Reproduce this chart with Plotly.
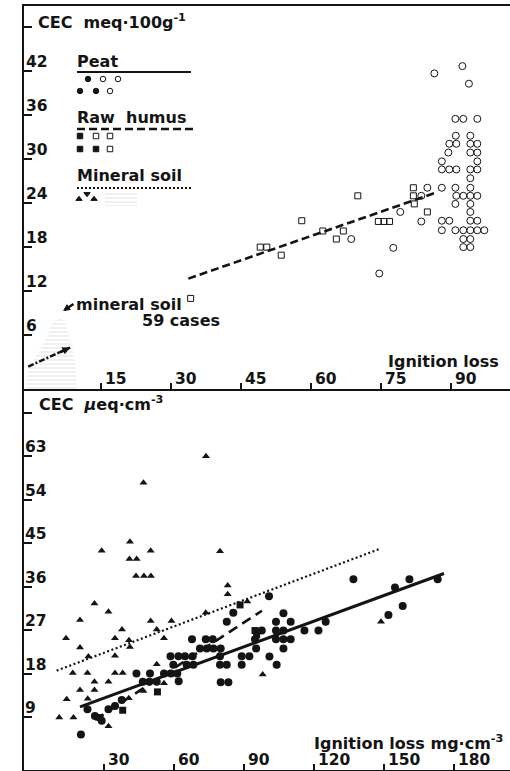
import plotly.graph_objects as go

W, H = 510, 771

# ---------------- top panel: CEC (meq/100 g) vs ignition loss (%) ----------------
top_peat_x = [86.4, 92.4, 93.8,
              90.9, 92.6, 95.6,
              91.0, 94.1,
              89.6, 91.1, 94.1, 95.6,
              89.4, 94.1, 95.6,
              88.0, 95.6,
              88.0, 89.6, 91.1, 94.1, 95.6,
              94.1,
              88.0, 90.9, 94.1,
              91.1, 92.6, 94.1, 95.6,
              90.9, 94.1,
              94.1,
              88.0, 89.6, 94.1, 95.6,
              88.0, 90.9, 92.6, 94.1, 95.6, 97.1,
              92.6, 94.1,
              92.6, 94.1,
              84.9, 83.6, 79.1, 83.6, 77.6, 74.6, 68.6]
top_peat_y = [41.7, 42.7, 40.3,
              35.5, 35.5, 35.5,
              33.2, 33.2,
              32.1, 32.1, 32.1, 32.1,
              30.9, 30.9, 30.9,
              29.7, 29.7,
              28.6, 28.6, 28.6, 28.6, 28.6,
              27.4,
              26.1, 26.1, 26.1,
              25.0, 25.0, 25.0, 25.0,
              23.9, 23.9,
              22.8,
              21.6, 21.6, 21.6, 21.6,
              20.3, 20.3, 20.3, 20.3, 20.3, 20.3,
              19.1, 19.1,
              18.0, 18.0,
              26.1, 25.0, 22.8, 21.5, 17.9, 14.4, 19.1]

top_humus_x = [34.2, 49.1, 50.5, 53.6, 58.0, 62.5, 65.4, 66.9, 70.0,
               74.4, 75.6, 76.8, 81.9, 81.9, 82.1, 84.9]
top_humus_y = [11.0, 18.0, 18.0, 16.9, 21.6, 20.2, 19.1, 20.2, 25.0,
               21.5, 21.5, 21.5, 26.1, 25.0, 23.9, 22.8]

top_humus_line_x = [33.7, 86.6]
top_humus_line_y = [13.7, 25.4]

top_mineral_line_x = [-0.6, 8.4]
top_mineral_line_y = [1.7, 4.3]

# outline of the hatched "mineral soil, 59 cases" cloud
mineral_area_x = [-1.1, -0.6, 1.9, 3.4, 4.7, 6.2, 7.3, 7.9, 8.8, 9.4, 9.9]
mineral_area_y = [-1.4, 1.6, 3.9, 5.7, 7.8, 8.3, 7.8, 6.3, 4.4, 2.6, -1.4]

top_xticks = [15, 30, 45, 60, 75, 90]
top_yticks = [6, 12, 18, 24, 30, 36, 42]
top_ytitle_tick = 48

# ---------------- bottom panel: CEC (ueq/cm3) vs ignition loss (mg/cm3) ----------------
bot_peat_x = [20.1, 22.9, 26.1, 29.0, 31.9, 34.7, 37.6,
              43.9, 49.7, 46.6, 49.4, 52.6, 55.7, 58.7, 61.4, 62.0,
              58.5, 61.9, 64.7, 68.0,
              59.7, 65.4, 68.3,
              71.1, 74.0, 76.9, 80.0, 95.2, 106.9,
              67.7, 73.6, 76.6, 94.7, 103.7, 106.9, 110.0,
              97.6, 103.7, 106.9, 115.9, 121.9,
              82.6, 103.7, 110.0, 125.0,
              85.4, 106.9, 100.7, 136.9,
              79.7, 89.0, 92.3, 100.9,
              79.7, 82.6, 89.0, 104.0,
              80.0, 83.3,
              151.9, 154.7, 158.0, 160.9, 173.0]
bot_peat_y = [5.4, 10.6, 9.2, 8.2, 10.6, 11.3, 12.5,
              18.0, 18.0, 16.3, 16.3, 16.3, 18.0, 18.0, 18.0, 16.4,
              21.6, 21.6, 21.6, 21.6,
              19.8, 19.8, 19.8,
              23.2, 23.2, 23.2, 23.2, 23.2, 23.2,
              25.1, 25.1, 25.1, 25.1, 25.1, 25.1, 25.1,
              26.9, 26.9, 26.9, 26.9, 26.9,
              28.7, 28.7, 28.7, 28.7,
              30.6, 30.5, 34.0, 37.5,
              21.6, 21.6, 21.6, 21.5,
              19.8, 19.8, 19.8, 19.8,
              16.2, 16.2,
              30.1, 35.8, 32.0, 37.5, 37.5]

bot_humus_x = [28.3, 38.0, 52.9, 88.3, 94.7, 95.4]
bot_humus_y = [8.9, 10.4, 14.2, 32.2, 26.9, 26.0]

bot_mineral_x = [73.7, 46.9, 41.1, 29.0, 50.0, 79.7, 40.9, 44.0, 43.7, 47.1, 50.1,
                 83.0, 83.0, 25.9, 31.9, 19.7, 50.0, 58.9, 73.6, 91.4,
                 37.7, 52.6, 13.7, 34.7, 55.7, 40.7, 41.1, 19.7, 23.3, 34.7, 52.6,
                 16.6, 22.9, 34.7, 38.0, 25.9, 31.9, 19.7, 25.9, 14.0, 23.0, 40.6,
                 46.9, 55.7, 98.0, 148.7, 10.8, 16.9, 31.9]
bot_mineral_y = [63.0, 57.5, 45.3, 43.4, 43.4, 43.3, 41.7, 41.7, 38.2, 38.2, 38.2,
                 36.2, 34.4, 32.5, 30.8, 29.1, 28.9, 28.9, 30.6, 32.9,
                 27.1, 27.1, 25.3, 25.3, 25.3, 24.9, 23.5, 23.4, 21.5, 21.7, 19.9,
                 18.1, 18.1, 18.1, 18.1, 16.3, 16.3, 14.6, 14.6, 12.7, 12.8, 12.9,
                 14.4, 16.0, 17.8, 28.7, 8.9, 8.9, 7.1]

bot_peat_line_x = [19.7, 175.7]
bot_peat_line_y = [11.1, 38.7]
bot_humus_line_x = [26.1, 97.7]
bot_humus_line_y = [8.4, 31.0]
bot_mineral_line_x = [9.7, 148.7]
bot_mineral_line_y = [18.6, 43.9]

bot_xticks = [30, 60, 90, 120, 150, 180]
bot_yticks = [9, 18, 27, 36, 45, 54, 63]
bot_ytitle_tick = 72

# ---------------- styling ----------------
INK = "#141414"
HATCH = "#b4b4b4"
FONT = dict(family="DejaVu Sans", size=16, color=INK, weight="bold")
TICKFONT = dict(family="DejaVu Sans", size=15.5, color=INK, weight="bold")

def px_x(X):
    return X / W

def px_y(Y):
    return 1 - Y / H

fig = go.Figure()

# --- top panel
fig.add_trace(go.Scatter(
    x=mineral_area_x, y=mineral_area_y, xaxis="x", yaxis="y",
    mode="none", fill="toself", fillcolor="rgba(0,0,0,0)",
    fillpattern=dict(shape="-", fgcolor=HATCH, size=4, solidity=0.2),
    hoverinfo="skip"))
fig.add_trace(go.Scatter(
    x=top_humus_line_x, y=top_humus_line_y, xaxis="x", yaxis="y", mode="lines",
    line=dict(color=INK, width=2.6, dash="8px,4px"), hoverinfo="skip"))
fig.add_trace(go.Scatter(
    x=top_mineral_line_x, y=top_mineral_line_y, xaxis="x", yaxis="y", mode="lines",
    line=dict(color=INK, width=2.6, dash="6px,2px,2px,2px"), hoverinfo="skip"))
fig.add_trace(go.Scatter(
    x=top_peat_x, y=top_peat_y, xaxis="x", yaxis="y", mode="markers",
    marker=dict(symbol="circle-open", size=7, color=INK, line=dict(width=1)),
    hoverinfo="skip"))
fig.add_trace(go.Scatter(
    x=top_humus_x, y=top_humus_y, xaxis="x", yaxis="y", mode="markers",
    marker=dict(symbol="square-open", size=6, color=INK, line=dict(width=1)),
    hoverinfo="skip"))

# --- bottom panel
fig.add_trace(go.Scatter(
    x=bot_mineral_line_x, y=bot_mineral_line_y, xaxis="x2", yaxis="y2", mode="lines",
    line=dict(color=INK, width=2.2, dash="2px,2.5px"), hoverinfo="skip"))
fig.add_trace(go.Scatter(
    x=bot_humus_line_x, y=bot_humus_line_y, xaxis="x2", yaxis="y2", mode="lines",
    line=dict(color=INK, width=2.6, dash="10px,6px"), hoverinfo="skip"))
fig.add_trace(go.Scatter(
    x=bot_peat_line_x, y=bot_peat_line_y, xaxis="x2", yaxis="y2", mode="lines",
    line=dict(color=INK, width=3), hoverinfo="skip"))
fig.add_trace(go.Scatter(
    x=bot_mineral_x, y=bot_mineral_y, xaxis="x2", yaxis="y2", mode="markers",
    marker=dict(symbol="triangle-up", size=7, color=INK), hoverinfo="skip"))
fig.add_trace(go.Scatter(
    x=bot_humus_x, y=bot_humus_y, xaxis="x2", yaxis="y2", mode="markers",
    marker=dict(symbol="square", size=7, color=INK), hoverinfo="skip"))
fig.add_trace(go.Scatter(
    x=bot_peat_x, y=bot_peat_y, xaxis="x2", yaxis="y2", mode="markers",
    marker=dict(symbol="circle", size=8, color=INK), hoverinfo="skip"))

# --- legend keys drawn on a pixel overlay (x3/y3)
leg_lines = [([77, 191], [72, 72], "solid", 2.2),
             ([77, 195], [129, 129], "8px,4px", 2.6),
             ([77, 191], [188, 188], "2px,2px", 2.0)]
for lx, ly, dsh, lw in leg_lines:
    fig.add_trace(go.Scatter(x=lx, y=ly, xaxis="x3", yaxis="y3", mode="lines",
                             line=dict(color=INK, width=lw, dash=dsh), hoverinfo="skip"))
leg_marks = [
    ([88, 80, 96], [79, 91, 91], "circle"),
    ([103, 118, 110], [79, 79, 91], "circle-open"),
    ([80, 80, 96], [136, 149, 149], "square"),
    ([96, 110, 110], [136, 136, 149], "square-open"),
    ([79, 94], [199, 199], "triangle-up"),
    ([87], [194], "triangle-down"),
]
for mx, my, sym in leg_marks:
    fig.add_trace(go.Scatter(x=mx, y=my, xaxis="x3", yaxis="y3", mode="markers",
                             marker=dict(symbol=sym, size=5.5, color=INK, line=dict(width=1, color=INK)),
                             hoverinfo="skip"))
fig.add_trace(go.Scatter(
    x=[105, 137, 137, 105], y=[192, 192, 206, 206], xaxis="x3", yaxis="y3",
    mode="none", fill="toself", fillcolor="rgba(0,0,0,0)",
    fillpattern=dict(shape="-", fgcolor=HATCH, size=4, solidity=0.2),
    hoverinfo="skip"))

annotations = []

# tick labels
for v in top_xticks:
    annotations.append(dict(x=v, xref="x", y=379, yref="y3", text=str(v), showarrow=False,
                            xanchor="left", yanchor="middle", xshift=2, font=TICKFONT))
for v in bot_xticks:
    annotations.append(dict(x=v, xref="x2", y=760, yref="y3", text=str(v), showarrow=False,
                            xanchor="left", yanchor="middle", xshift=2, font=TICKFONT))
for v in top_yticks:
    annotations.append(dict(x=24, xref="x3", y=v, yref="y", text=str(v), showarrow=False,
                            xanchor="left", yanchor="middle", yshift=9, font=TICKFONT))
for v in bot_yticks:
    annotations.append(dict(x=23, xref="x3", y=v, yref="y2", text=str(v), showarrow=False,
                            xanchor="left", yanchor="middle", yshift=9, font=TICKFONT))

# axis titles
annotations += [
    dict(x=36, y=21, xref="x3", yref="y3", text="CEC  meq·100g<sup>-1</sup>",
         showarrow=False, xanchor="left", yanchor="middle", font=FONT),
    dict(x=37, y=403, xref="x3", yref="y3", text="CEC  <i>μ</i>eq·cm<sup>-3</sup>",
         showarrow=False, xanchor="left", yanchor="middle", font=FONT),
    dict(x=386, y=361, xref="x3", yref="y3", text="Ignition loss",
         showarrow=False, xanchor="left", yanchor="middle", font=FONT),
    dict(x=312, y=742, xref="x3", yref="y3", text="Ignition loss mg·cm<sup>-3</sup>",
         showarrow=False, xanchor="left", yanchor="middle", font=FONT),
]

# legend texts
annotations += [
    dict(x=75, y=61, xref="x3", yref="y3", text="Peat", showarrow=False,
         xanchor="left", yanchor="middle", font=FONT),
    dict(x=75, y=117, xref="x3", yref="y3", text="Raw  humus", showarrow=False,
         xanchor="left", yanchor="middle", font=FONT),
    dict(x=75, y=175, xref="x3", yref="y3", text="Mineral soil", showarrow=False,
         xanchor="left", yanchor="middle", font=FONT),
]

# "mineral soil 59 cases" note with arrow
annotations += [
    dict(x=74, y=304, xref="x3", yref="y3", text="mineral soil", showarrow=False,
         xanchor="left", yanchor="middle", font=FONT),
    dict(x=140, y=320, xref="x3", yref="y3", text="59 cases", showarrow=False,
         xanchor="left", yanchor="middle", font=FONT),
    dict(x=63, y=311, xref="x3", yref="y3", ax=75, ay=303, axref="x3", ayref="y3",
         text="", showarrow=True, arrowhead=2, arrowsize=0.55, arrowwidth=2.6, arrowcolor=INK),
]

# arrow head on the short mineral-soil regression line (top panel)
f = 0.7
annotations.append(dict(
    x=top_mineral_line_x[1], y=top_mineral_line_y[1], xref="x", yref="y",
    ax=top_mineral_line_x[0] + f * (top_mineral_line_x[1] - top_mineral_line_x[0]),
    ay=top_mineral_line_y[0] + f * (top_mineral_line_y[1] - top_mineral_line_y[0]),
    axref="x", ayref="y", text="", showarrow=True, arrowhead=2, arrowsize=0.6,
    arrowwidth=2.6, arrowcolor=INK))

axis_common = dict(showline=True, linecolor=INK, linewidth=2, showgrid=False,
                   zeroline=False, ticks="inside", tickcolor=INK, showticklabels=False)

fig.update_layout(
    width=W, height=H, margin=dict(l=0, r=0, t=0, b=0),
    paper_bgcolor="white", plot_bgcolor="rgba(0,0,0,0)",
    showlegend=False, hovermode=False, font=FONT,
    xaxis=dict(**axis_common, domain=[px_x(24), 1], range=[-1.5, 102.6], anchor="y",
               mirror=True, tickvals=top_xticks, ticklen=6, tickwidth=1.6),
    yaxis=dict(**axis_common, domain=[px_y(389), px_y(6)], range=[-1.36, 50.9], anchor="x",
               tickvals=top_yticks + [top_ytitle_tick], ticklen=8, tickwidth=1.6),
    xaxis2=dict(**axis_common, domain=[px_x(24), 1], range=[-4.3, 204.0], anchor="y2",
                tickvals=bot_xticks, ticklen=6, tickwidth=1.6),
    yaxis2=dict(**axis_common, domain=[px_y(770), px_y(389)], range=[-1.97, 76.9], anchor="x2",
                tickvals=bot_yticks + [bot_ytitle_tick], ticklen=8, tickwidth=1.6),
    xaxis3=dict(domain=[0, 1], range=[0, W], visible=False, fixedrange=True, anchor="y3"),
    yaxis3=dict(domain=[0, 1], range=[H, 0], visible=False, fixedrange=True, anchor="x3"),
    annotations=annotations,
)

fig.write_html("out.html", config={"displayModeBar": False})
